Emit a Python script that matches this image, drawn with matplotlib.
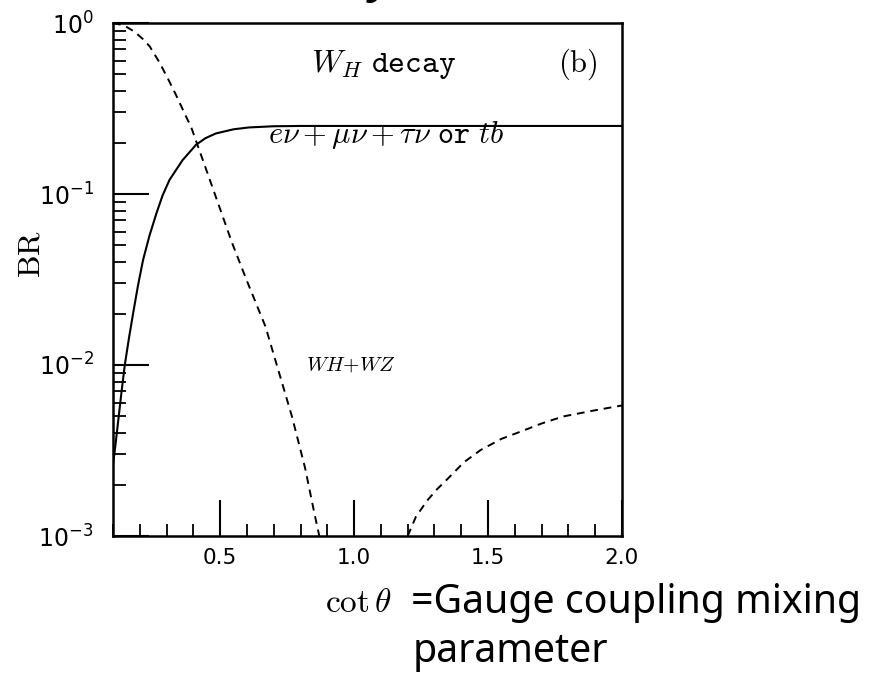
import matplotlib
matplotlib.use("Agg")
import matplotlib.pyplot as plt
from matplotlib.ticker import LogLocator, MultipleLocator, NullFormatter

plt.rcParams['mathtext.fontset'] = 'cm'

# solid curve: e nu + mu nu + tau nu (or tb)
cot_lep = [0.1, 0.11, 0.12, 0.132, 0.144, 0.16, 0.175, 0.193, 0.212, 0.236,
           0.262, 0.285, 0.311, 0.36, 0.41, 0.445, 0.484, 0.55, 0.607, 0.7,
           0.8, 1.0, 1.5, 2.0]
br_lep = [2.6e-3, 3.5e-3, 4.8e-3, 7.0e-3, 1.0e-2, 1.45e-2, 2.0e-2, 2.9e-2,
          4.1e-2, 5.7e-2, 7.7e-2, 9.8e-2, 0.121, 0.158, 0.194, 0.212, 0.226,
          0.239, 0.245, 0.249, 0.25, 0.25, 0.25, 0.25]

# dashed curve: WH + WZ, low cot branch
cot_wh1 = [0.1, 0.126, 0.15, 0.18, 0.21, 0.237, 0.27, 0.3, 0.335, 0.373,
           0.391, 0.45, 0.545, 0.6, 0.669, 0.72, 0.768, 0.817, 0.85, 0.87]
br_wh1 = [1.0, 0.98, 0.95, 0.89, 0.81, 0.73, 0.6, 0.49, 0.38, 0.283,
          0.248, 0.136, 0.0515, 0.031, 0.0168, 0.009, 5.0e-3, 2.5e-3,
          1.4e-3, 1.0e-3]

# dashed curve: WH + WZ, high cot branch
cot_wh2 = [1.2, 1.231, 1.274, 1.31, 1.348, 1.41, 1.472, 1.55, 1.62, 1.7,
           1.78, 1.89, 2.0]
br_wh2 = [1.0e-3, 1.3e-3, 1.62e-3, 1.88e-3, 2.15e-3, 2.7e-3, 3.18e-3,
          3.7e-3, 4.07e-3, 4.55e-3, 5.0e-3, 5.4e-3, 5.8e-3]

fig = plt.figure(figsize=(8.81, 6.76), dpi=100)
ax = fig.add_axes([113/881, 1-536/676, (622-113)/881, (536-23)/676])

ax.plot(cot_lep, br_lep, color='black', lw=1.5)
ax.plot(cot_wh1, br_wh1, color='black', lw=1.4, linestyle=(0, (4, 3)))
ax.plot(cot_wh2, br_wh2, color='black', lw=1.4, linestyle=(0, (4, 3)))

ax.set_yscale('log')
ax.set_xlim(0.1, 2.0)
ax.set_ylim(1e-3, 1.0)

# ticks inward, left and bottom only
ax.xaxis.set_major_locator(MultipleLocator(0.5))
ax.xaxis.set_minor_locator(MultipleLocator(0.1))
ax.yaxis.set_major_locator(LogLocator(base=10))
ax.yaxis.set_minor_locator(LogLocator(base=10, subs=range(2, 10)))
ax.yaxis.set_minor_formatter(NullFormatter())
ax.tick_params(which='major', direction='in', length=26, width=1.5,
               top=False, right=False)
ax.tick_params(which='minor', direction='in', length=9, width=1.3,
               top=False, right=False)
ax.tick_params(axis='x', which='major', pad=9)
ax.tick_params(axis='y', which='major', pad=14)
ax.set_xticks([0.5, 1.0, 1.5, 2.0])
ax.set_xticklabels(['0.5', '1.0', '1.5', '2.0'], family='DejaVu Sans',
                   fontsize=15.5)
ax.set_yticks([1e-3, 1e-2, 1e-1, 1e0])
ax.set_yticklabels([r'$10^{-3}$', r'$10^{-2}$', r'$10^{-1}$', r'$10^{0}$'],
                   math_fontfamily='dejavusans', fontsize=17)
for sp in ax.spines.values():
    sp.set_linewidth(1.8)

ax.set_ylabel(r'$\mathrm{BR}$', fontsize=23)
ax.yaxis.set_label_coords(-0.13, 0.55)

ax.text(0.84, 0.575, r'$W_H\ \mathtt{decay}$', fontsize=23, va='center')
ax.text(1.837, 0.575, r'$\mathrm{(b)}$', fontsize=22, va='center', ha='center')
ax.text(0.68, 0.221, r'$e\nu+\mu\nu+\tau\nu\ \mathtt{or}\ tb$', fontsize=22,
        va='center')
ax.text(0.82, 0.01, r'$\mathbf{\mathit{WH}{+}\mathit{WZ}}$', fontsize=15,
        va='center')

# x axis label: math part plus handwritten-style explanation
fig.text(325/881, 1-603/676, r'$\mathrm{cot}\,\theta$', fontsize=24,
         va='center')
fig.text(411/881, 1-603/676, '=Gauge coupling mixing', fontsize=28.3,
         family='Noto Sans', va='center')
fig.text(413/881, 1-652/676, 'parameter', fontsize=28.3, family='Noto Sans',
         va='center')

# clipped title remnant at the very top (only descenders visible)
fig.text(165/881, 1-5/676, r'W$_\mathsf{H}$ decay', fontsize=36,
         family='Noto Sans', va='bottom')

fig.savefig('out.png', dpi=100)
